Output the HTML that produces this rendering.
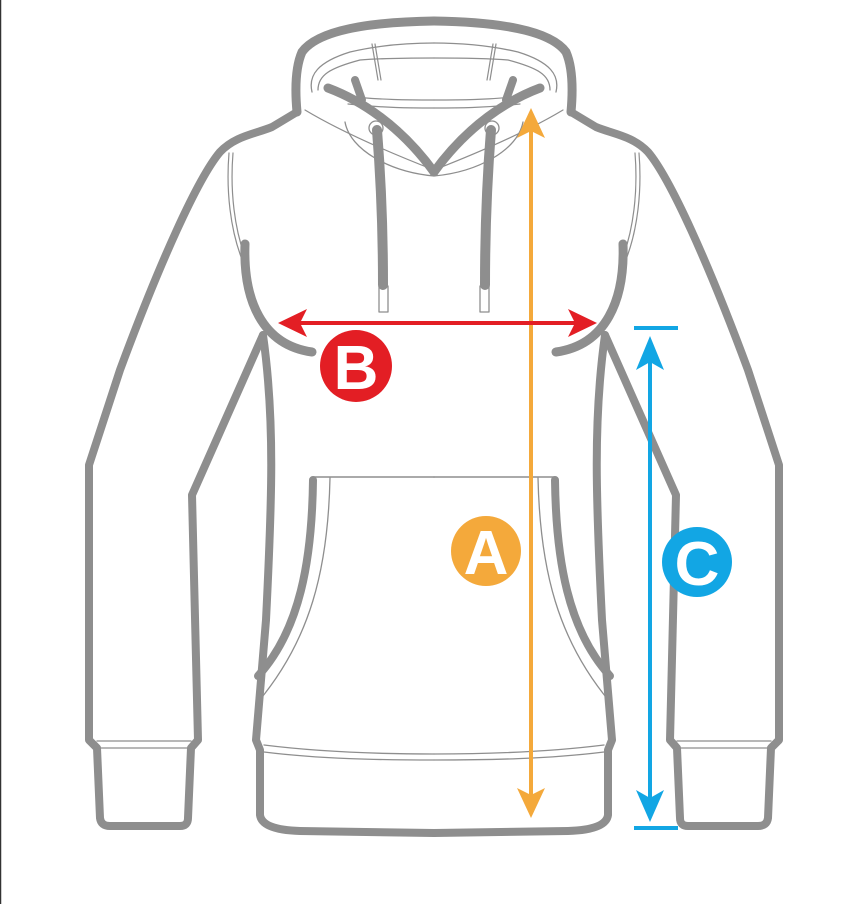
<!DOCTYPE html>
<html><head><meta charset="utf-8"><style>
html,body{margin:0;padding:0;background:#fff;}
svg{display:block;}
</style></head><body>
<svg width="861" height="904" viewBox="0 0 861 904" xmlns="http://www.w3.org/2000/svg">
<rect x="0" y="0" width="861" height="904" fill="#fff"/>
<line x1="0.5" y1="0" x2="0.5" y2="904" stroke="#333" stroke-width="1.5"/>
<g id="half" fill="none" stroke="#8e8e8e" stroke-linecap="round" stroke-linejoin="round">
  <path d="M297 112 C295 90 295 68 302 52 C318 30 370 22 434 21" stroke-width="9"/>
  <path d="M312 92 C308 75 318 62 350 52 C380 45 410 43 434 43" stroke-width="1.3"/>
  <path d="M318 90 C318 75 330 68 360 60 C385 58 410 58 434 58" stroke-width="1.3"/>
  <path d="M372 44 L378 80 M375 44 L381 80" stroke-width="1.2"/>
  <path d="M345 96 C380 100 410 100 434 100 M348 104 C385 108 410 108 434 108" stroke-width="1.2"/>
  <path d="M345 122 C350 150 390 172 434 176" stroke-width="1.3"/>
  <path d="M305 110 C330 125 370 145 434 170" stroke-width="1.2"/>
  <path d="M328 88 C360 100 400 125 434 172" stroke-width="9"/>
  <path d="M355 80 L362 100" stroke-width="8"/>
  <path d="M377 130 C381 180 383 240 383 285" stroke-width="10"/>
  <rect x="379" y="286" width="9" height="26" stroke-width="1.3"/>
  <circle cx="376" cy="128" r="7" stroke-width="1.3"/>
  <path d="M297 112 L272 127 C255 134 235 136 220 152 C198 178 160 262 120 370 L89 465 L89 740 L97 748 L100 818 Q101 826 110 826 L180 826 Q188 826 188 818 L191 748 L198 740 L192 495 L263 335" stroke-width="8"/>
  <path d="M97 741 L191 741 M97 748 L191 748" stroke-width="1.3"/>
  <path d="M229 153 C226 190 230 230 243 262 M233 153 C230 190 234 230 247 262" stroke-width="1.2"/>
  <path d="M245 244 C243 300 262 345 312 352" stroke-width="9"/>
  <path d="M263 335 C275 420 272 500 266 620 L256 740 L260 750 L260 815 Q262 830 300 831 L434 833" stroke-width="8"/>
  <path d="M264 745 C320 752 380 754 434 754 M264 752 C320 759 380 760 434 760" stroke-width="1.3"/>
  <path d="M313 480 C312 560 300 630 258 676" stroke-width="8"/>
  <path d="M330 478 C328 570 310 640 258 702" stroke-width="1.3"/>
  <path d="M313 477 L434 477" stroke-width="1.5"/>
</g>
<use href="#half" transform="translate(868,0) scale(-1,1)"/>

<g fill="#f4a93b" stroke="none">
  <rect x="529" y="120" width="4" height="690"/>
  <polygon points="531,108 517,138 531,131 545,138"/>
  <polygon points="531,818 517,788 531,795 545,788"/>
  <circle cx="486" cy="551" r="35"/>
</g>
<text x="486" y="574" text-anchor="middle" font-family="Liberation Sans, sans-serif" font-size="62" font-weight="bold" fill="#fff">A</text>

<g fill="#e31e24" stroke="none">
  <rect x="295" y="321" width="285" height="4"/>
  <polygon points="278,323 307,309 300,323 307,337"/>
  <polygon points="597,323 568,309 575,323 568,337"/>
  <circle cx="356" cy="366" r="36"/>
</g>
<text x="356" y="389" text-anchor="middle" font-family="Liberation Sans, sans-serif" font-size="62" font-weight="bold" fill="#fff">B</text>

<g fill="#12a6e4" stroke="none">
  <rect x="634" y="326" width="44" height="4"/>
  <rect x="634" y="826" width="44" height="4"/>
  <rect x="648" y="350" width="4" height="450"/>
  <polygon points="650,336 636,370 650,362 664,370"/>
  <polygon points="650,822 636,790 650,798 664,790"/>
  <circle cx="697" cy="562" r="35"/>
</g>
<text x="697" y="585" text-anchor="middle" font-family="Liberation Sans, sans-serif" font-size="62" font-weight="bold" fill="#fff">C</text>
</svg>
</body></html>
